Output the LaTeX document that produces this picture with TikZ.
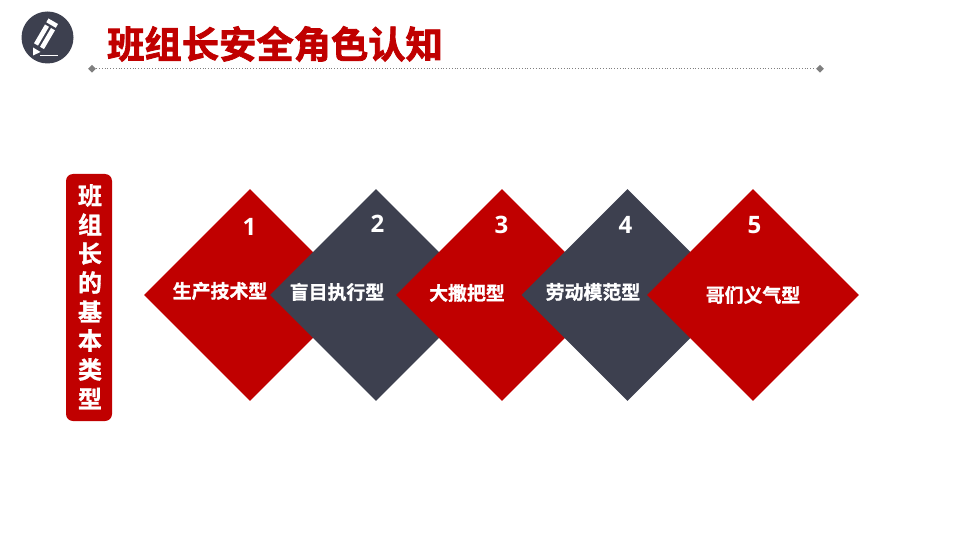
\documentclass[tikz,border=0pt]{standalone}
\usepackage{fontspec}
\setmainfont{Noto Sans CJK SC}[BoldFont={* Bold},BoldFeatures={FakeBold=1.2}]
\newfontfamily\titlefont{Noto Sans CJK SC Bold}[FakeBold=2.2]
\setsansfont{Open Sans}
\usetikzlibrary{shapes.geometric}
\definecolor{myred}{HTML}{C00000}
\definecolor{mydark}{HTML}{3D404F}
\definecolor{mygrey}{HTML}{7F7F7F}
\tikzset{
  dia/.style={diamond,aspect=1,inner sep=0pt,minimum width=212pt,minimum height=212pt,draw=none},
  lab/.style={text=white,font=\fontsize{18.9pt}{20pt}\selectfont\bfseries,inner sep=0pt},
  num/.style={text=white,font=\sffamily\fontsize{24pt}{26pt}\selectfont\bfseries,inner sep=0pt},
  endm/.style={diamond,aspect=1,fill=mygrey,inner sep=0pt,minimum width=8pt,minimum height=8pt},
  vch/.style={text=white,font=\fontsize{24pt}{26pt}\selectfont\bfseries,inner sep=0pt},
}
\begin{document}
\begin{tikzpicture}[x=1pt,y=-1pt]
\useasboundingbox (0,0) rectangle (960,540);
% icon
\node[circle,fill=mydark,minimum size=52pt,inner sep=0pt] (icon) at (47.5,37.5) {};
\fill[white] (48.5,18.5) -- (58,24) -- (55.8,27.8) -- (46.3,22.3) -- cycle;
\fill[white] (45,24.5) -- (49,26.8) -- (38,45.6) -- (34,43.3) -- cycle;
\fill[white] (51,28) -- (55,30.3) -- (44,49.1) -- (40,46.8) -- cycle;
\fill[white] (33,47.5) -- (40.5,52) -- (33,55.5) -- cycle;
\fill[white] (40,54.7) rectangle (58,56.2);
% title
\node[text=myred,font=\titlefont\fontsize{37.3pt}{40pt}\selectfont,anchor=west,inner sep=0pt] (title) at (107,44) {班组长安全角色认知};
\node[endm] (la) at (92,68.7) {};
\node[endm] (lb) at (820,68.7) {};
\draw[mygrey,line width=.8pt,dotted] (la) -- (lb);
% side label
\node[rectangle,rounded corners=7pt,fill=myred,minimum width=46pt,minimum height=247pt,inner sep=0pt] (side) at (89,297.5) {};
\foreach \c [count=\i from 0] in {班,组,长,的,基,本,类,型}
  \node[vch] (v\i) at (90,{195.5+\i*29}) {\c};
% diamonds
\node[dia,fill=myred] (d1) at (250,295) {};
\node[dia,fill=mydark] (d2) at (376,295) {};
\node[dia,fill=myred] (d3) at (502,295) {};
\node[dia,fill=mydark] (d4) at (627.5,295) {};
\node[dia,fill=myred] (d5) at (753,295) {};
% numbers
\node[num] (n1) at (249.5,227) {1};
\node[num] (n2) at (377.5,223.5) {2};
\node[num] (n3) at (501.5,225) {3};
\node[num] (n4) at (625.5,225) {4};
\node[num] (n5) at (754.5,225.5) {5};
% labels
\node[lab] (t1) at (220,291) {生产技术型};
\node[lab] (t2) at (337,292) {盲目执行型};
\node[lab] (t3) at (467,293) {大撒把型};
\node[lab] (t4) at (593,292) {劳动模范型};
\node[lab] (t5) at (753,295) {哥们义气型};
\end{tikzpicture}
\end{document}
